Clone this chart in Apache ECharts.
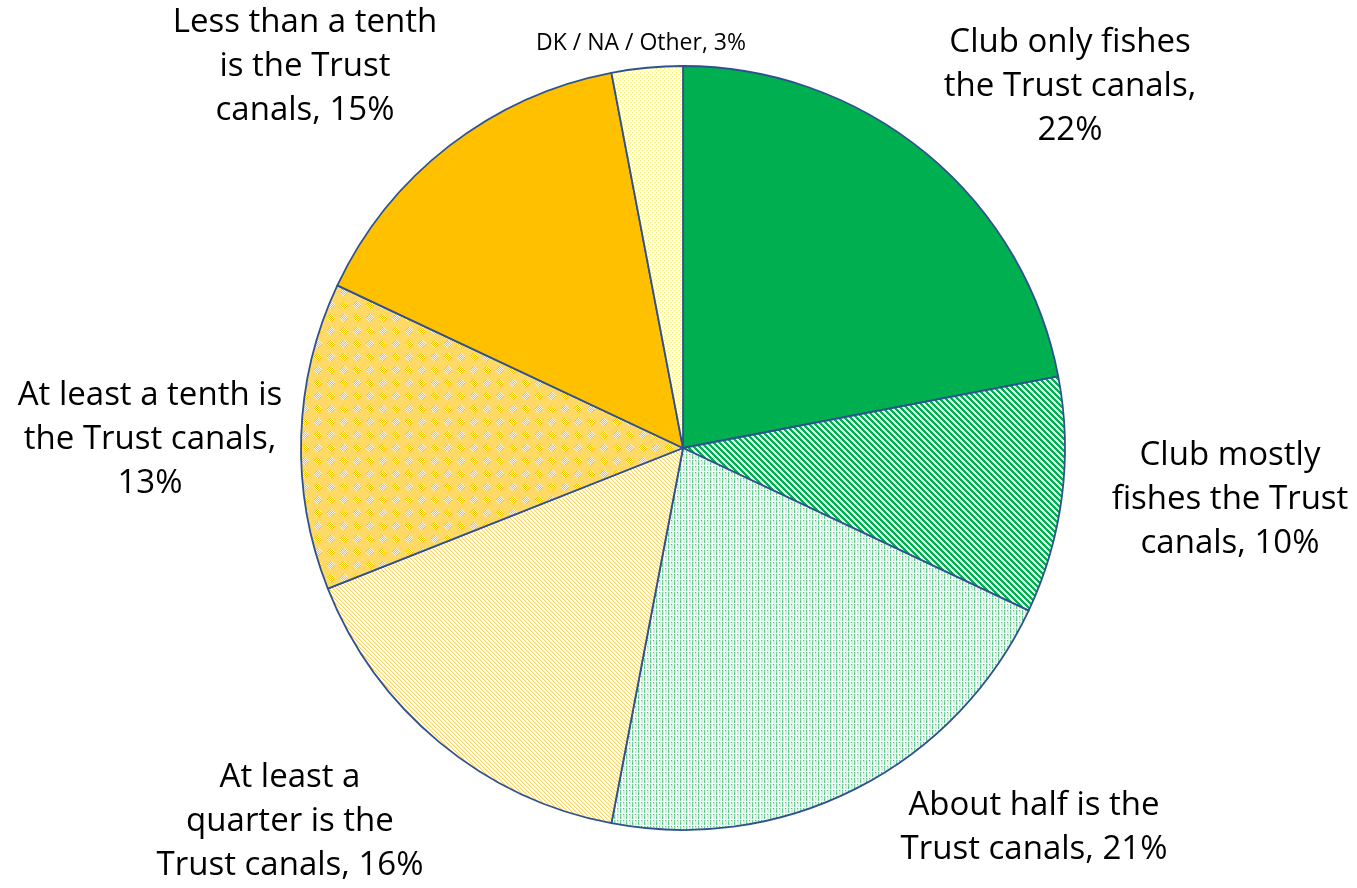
<!DOCTYPE html>
<html>
<head>
<meta charset="utf-8">
<script src="https://cdn.jsdelivr.net/npm/echarts@6/dist/echarts.min.js"></script>
<style>
  html, body { margin: 0; padding: 0; background: #ffffff; }
  #chart { width: 1357px; height: 888px; }
</style>
</head>
<body>
<div id="chart"></div>
<script>
// Share of angling clubs' fishing that is on the Trust canals
const categories = [
  'Club only fishes the Trust canals',
  'Club mostly fishes the Trust canals',
  'About half is the Trust canals',
  'At least a quarter is the Trust canals',
  'At least a tenth is the Trust canals',
  'Less than a tenth is the Trust canals',
  'DK / NA / Other'
];
const values = [22, 10, 21, 16, 13, 15, 3];
const labelTemplates = [
  'Club only fishes\nthe Trust canals,\n{v}%',
  'Club mostly\nfishes the Trust\ncanals, {v}%',
  'About half is the\nTrust canals, {v}%',
  'At least a\nquarter is the\nTrust canals, {v}%',
  'At least a tenth is\nthe Trust canals,\n{v}%',
  'Less than a tenth\nis the Trust\ncanals, {v}%',
  'DK / NA / Other, {v}%'
];

// label anchor points (centre of each text block)
const labelAnchors = [
  [1070, 87], [1230, 500], [1034, 828], [290, 822], [150, 440], [305, 67], [641, 43]
];

const GREEN = '#00B050';
const YELLOW = '#FFC000';

function tile(w, h, draw) {
  const c = document.createElement('canvas');
  c.width = w; c.height = h;
  const g = c.getContext('2d');
  draw(g, w, h);
  return { image: c, repeat: 'repeat' };
}
function px(g, color, pts) {
  g.fillStyle = color;
  pts.forEach(p => g.fillRect(p[0], p[1], 1, 1));
}

// wide downward diagonal, dark green
const fillMostly = tile(6, 6, (g, w, h) => {
  g.fillStyle = '#dff5e7'; g.fillRect(0, 0, w, h);
  g.fillStyle = GREEN;
  for (let y = 0; y < h; y++) {
    for (let k = 0; k < 3; k++) g.fillRect((y + k) % w, y, 1, 1);
  }
});
// light plaid, green
const fillHalf = tile(6, 6, (g, w, h) => {
  g.fillStyle = '#cdf0db'; g.fillRect(0, 0, w, h);
  g.fillStyle = '#ffffff';
  g.fillRect(1, 0, 1, h); g.fillRect(4, 0, 1, h);
  g.fillStyle = '#6fd49a';
  g.fillRect(2, 0, 1, h);
  g.fillStyle = '#ffffff';
  g.fillRect(0, 3, w, 1);
  g.fillStyle = '#3dc377';
  g.fillRect(2, 1, 1, 1); g.fillRect(5, 4, 1, 1);
});
// light downward diagonal, yellow
const fillQuarter = tile(4, 4, (g, w, h) => {
  g.fillStyle = '#ffffff'; g.fillRect(0, 0, w, h);
  g.fillStyle = '#ffd35a';
  for (let y = 0; y < h; y++) g.fillRect(y % w, y, 1, 1);
  g.fillStyle = '#fff0c4';
  for (let y = 0; y < h; y++) g.fillRect((y + 1) % w, y, 1, 1);
});
// large checker dots, yellow
const fillTenth = tile(13, 13, (g, w, h) => {
  g.fillStyle = '#ffd966'; g.fillRect(0, 0, w, h);
  for (let y = 0; y < 8; y++) {
    for (let x = 0; x < 8; x++) {
      const dx = x - 3.5, dy = y - 3.5;
      if (Math.abs(dx) + Math.abs(dy) > 4) continue;
      g.fillStyle = ((x + y) % 2 === 0) ? '#fff6dc' : YELLOW;
      g.fillRect(x + 2, y + 2, 1, 1);
    }
  }
});
// small dots, pale yellow
const fillOther = tile(4, 4, (g, w, h) => {
  g.fillStyle = '#ffffff'; g.fillRect(0, 0, w, h);
  px(g, '#fff36a', [[0, 0], [2, 2]]);
  px(g, '#fffbc8', [[1, 0], [0, 1], [3, 2], [2, 3]]);
});

const fills = [GREEN, fillMostly, fillHalf, fillQuarter, fillTenth, YELLOW, fillOther];

const seriesData = categories.map((name, i) => ({
  name: name,
  value: values[i],
  itemStyle: { color: fills[i] },
  label: { fontSize: i === 6 ? 23 : 33 }
}));

const chart = echarts.init(document.getElementById('chart'), null, { renderer: 'canvas' });
chart.setOption({
  animation: false,
  backgroundColor: '#ffffff',
  series: [{
    type: 'pie',
    center: [683, 448],
    radius: [0, 382],
    startAngle: 90,
    clockwise: true,
    data: seriesData,
    itemStyle: { borderColor: '#2F528F', borderWidth: 1.8 },
    emphasis: { disabled: true },
    labelLine: { show: false },
    label: {
      show: true,
      position: 'outside',
      overflow: 'none',
      color: '#000000',
      fontFamily: '"Open Sans", sans-serif',
      lineHeight: 44,
      align: 'center',
      formatter: p => labelTemplates[p.dataIndex].replace('{v}', values[p.dataIndex])
    },
    labelLayout: p => ({
      x: labelAnchors[p.dataIndex][0],
      y: labelAnchors[p.dataIndex][1],
      align: 'center',
      verticalAlign: 'middle',
      hideOverlap: false
    })
  }]
});
</script>
</body>
</html>
